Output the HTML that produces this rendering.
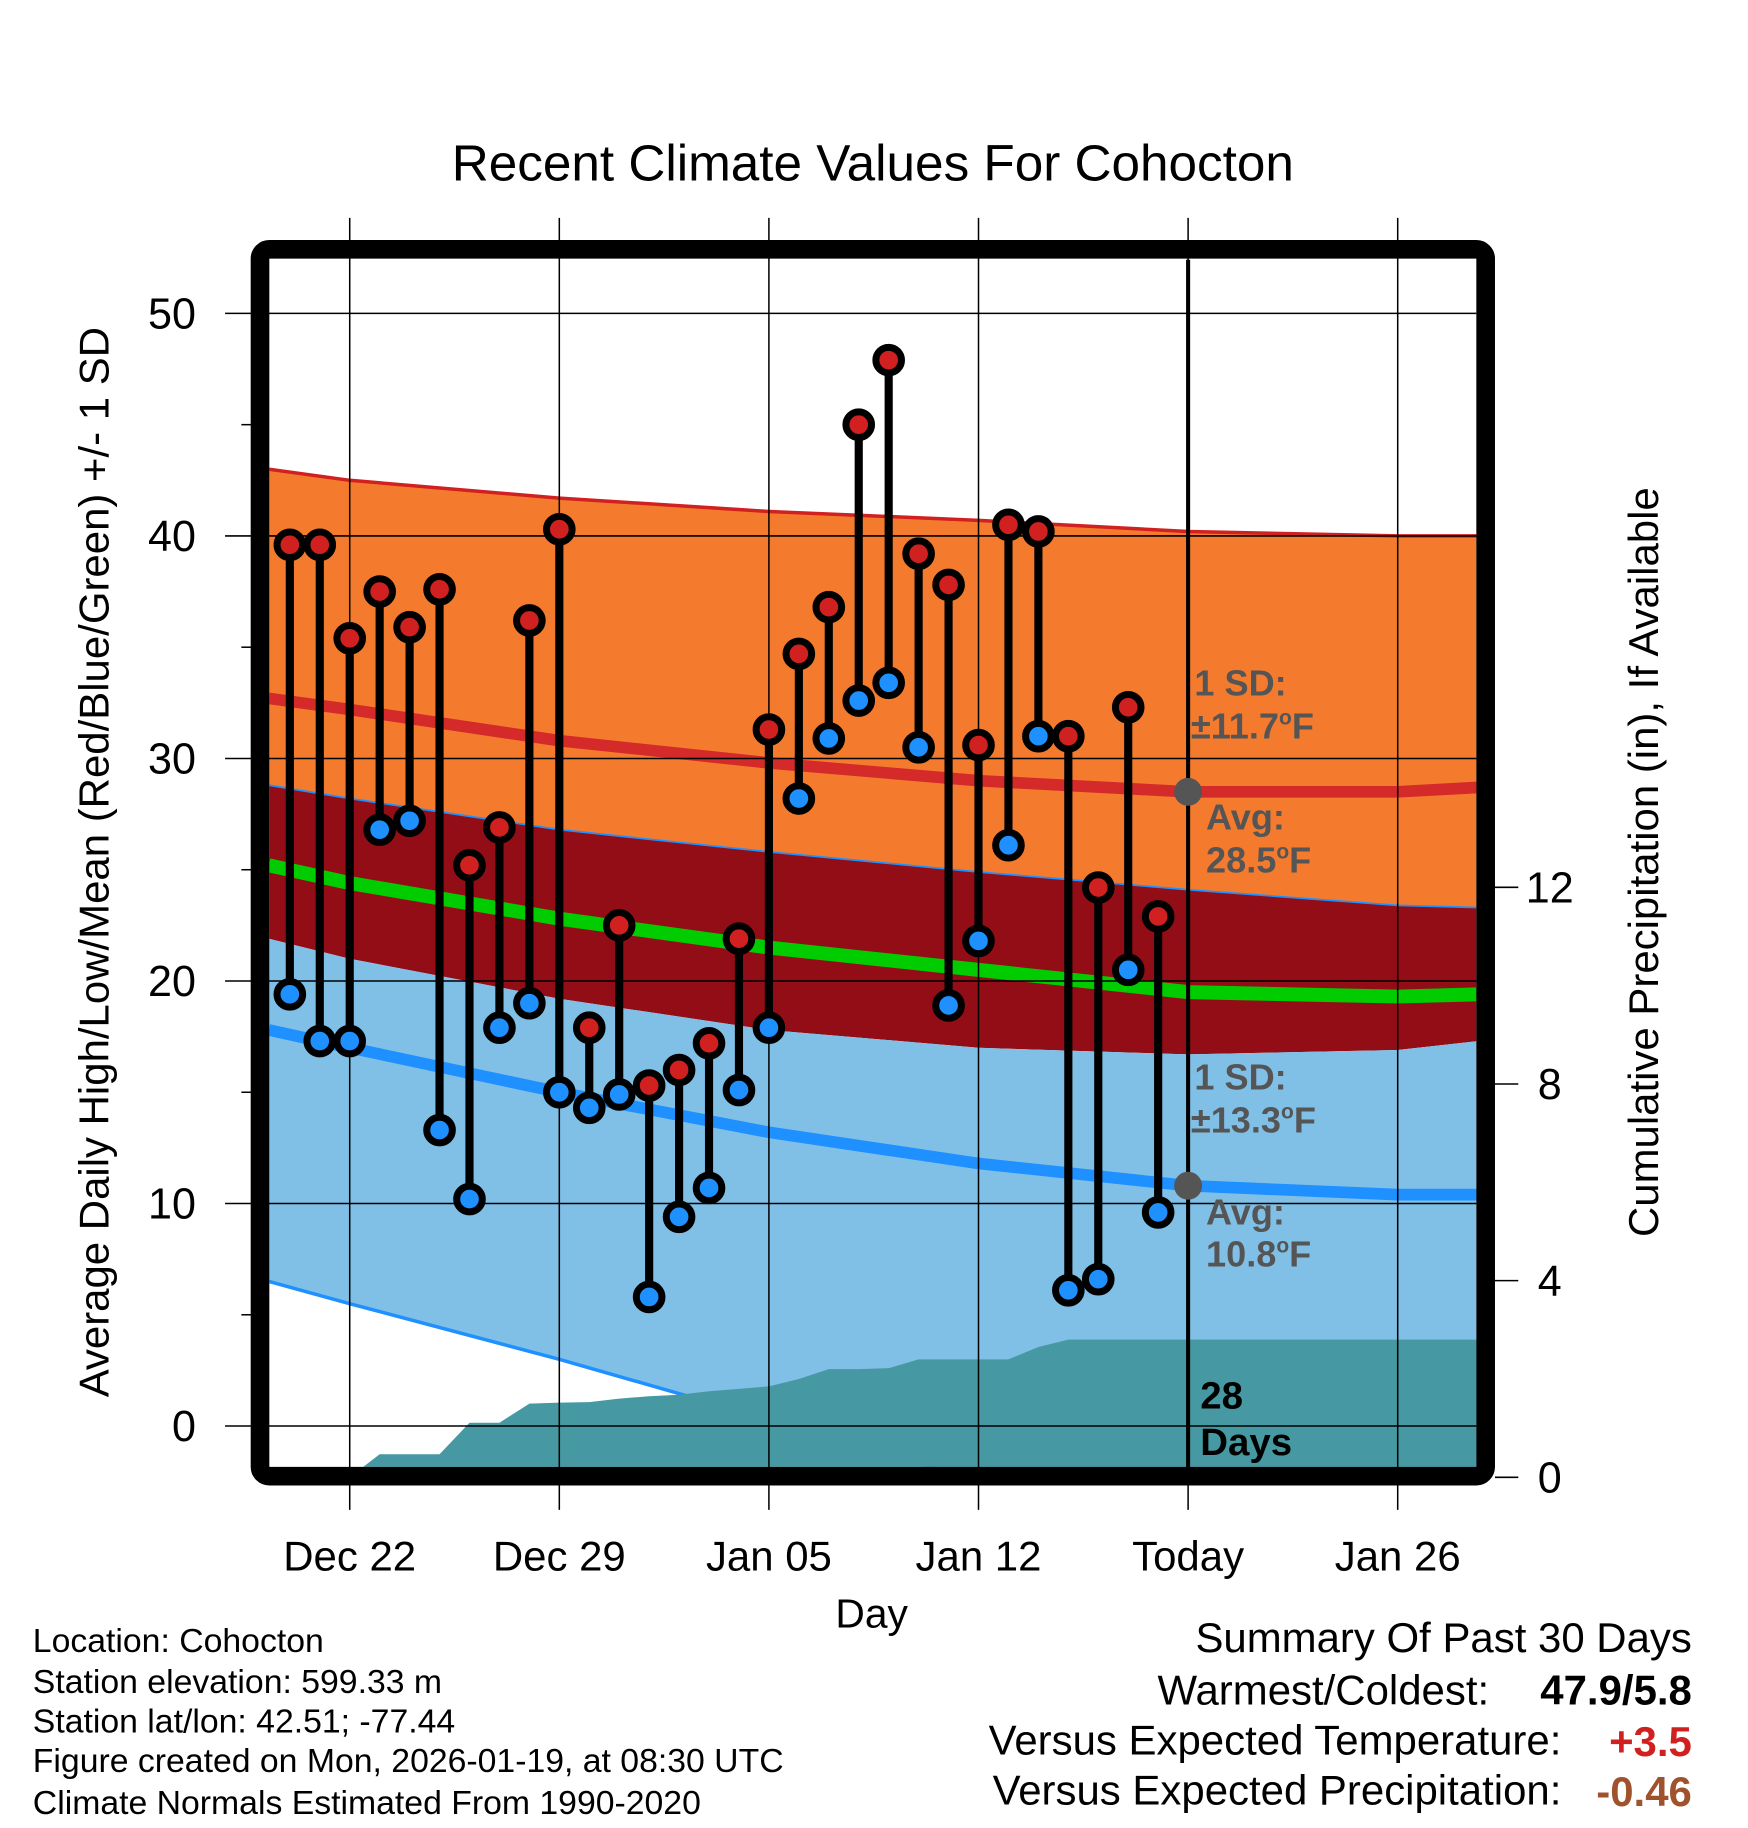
<!DOCTYPE html>
<html><head><meta charset="utf-8"><style>
html,body{margin:0;padding:0;background:#fff}
svg{display:block;font-family:"Liberation Sans",Arial,sans-serif}
</style></head><body>
<svg id="chart" width="1748" height="1828" viewBox="0 0 1500 1569" xmlns="http://www.w3.org/2000/svg">
<defs><clipPath id="plotclip"><rect x="231" y="223" width="1036" height="1036"/></clipPath></defs>
<rect width="1500" height="1569" fill="#fff"/>
<g id="plot" clip-path="url(#plotclip)"></g>
<g id="over"></g>
</svg>
<script>
// ---- data ----
const dayOffsets = [-2,-1,0,1,2,3,4,5,6,7,8,9,10,11,12,13,14,15,16,17,18,19,20,21,22,23,24,25,26,27];
const highs = [39.6,39.6,35.4,37.5,35.9,37.6,25.2,26.9,36.2,40.3,17.9,22.5,15.3,16.0,17.2,21.9,31.3,34.7,36.8,45.0,47.9,39.2,37.8,30.6,40.5,40.2,31.0,24.2,32.3,22.9];
const lows  = [19.4,17.3,17.3,26.8,27.2,13.3,10.2,17.9,19.0,15.0,14.3,14.9,5.8,9.4,10.7,15.1,17.9,28.2,30.9,32.6,33.4,30.5,18.9,21.8,26.1,31.0,6.1,6.6,20.5,9.6];
const precip = [0,0,0,0.47,0.47,0.47,1.11,1.11,1.5,1.52,1.53,1.6,1.65,1.68,1.75,1.8,1.85,2.0,2.2,2.2,2.22,2.4,2.4,2.4,2.4,2.65,2.8,2.8,2.8,2.8];
const normDays = [-2.7,0,7,14,21,28,35,37.7];
const hiPlusSD = [43.0,42.5,41.7,41.1,40.7,40.2,40.0,40.0];
const normHigh = [32.7,32.2,30.8,29.8,29.0,28.5,28.5,28.7];
const hiMinusSD = [28.8,28.2,26.8,25.8,24.9,24.1,23.4,23.3];
const normMean = [25.2,24.4,22.8,21.5,20.5,19.5,19.3,19.4];
const loPlusSD = [21.9,21.0,19.2,17.8,17.0,16.7,16.9,17.3];
const normLow = [17.8,17.0,15.0,13.2,11.8,10.8,10.4,10.4];
const loMinusSD = [6.5,5.5,3.0,0.3,-2.5,-3.5,-4.0,-4.0];
const yTicks = [0,10,20,30,40,50];
const yMinor = [5,15,25,35,45];
const pTicks = [0,4,8,12];
const xTickDays = [0,7,14,21,28,35];
const xTickLabels = ["Dec 22","Dec 29","Jan 05","Jan 12","Today","Jan 26"];

// ---- axes ----
const X = d => 300 + d*25.7;
const Y = v => 1224 - v*19.1;
const P = p => 1268 - p*42.2;
const NS="http://www.w3.org/2000/svg";
const plot=document.getElementById('plot'), over=document.getElementById('over');
function mk(tag,attrs,parent){const e=document.createElementNS(NS,tag);for(const k in attrs)e.setAttribute(k,attrs[k]);parent.appendChild(e);return e;}
function line(arr){return normDays.map((d,i)=>X(d)+','+Y(arr[i]));}
function band(a,b,fill,name){
  const pts=line(a).concat(line(b).reverse());
  const e=mk('polygon',{points:pts.join(' '),fill:fill},plot);
  
  
}
band(hiPlusSD,hiMinusSD,'#f47b2e','high-sd-band');
band(hiMinusSD,loPlusSD,'#920d15','overlap-band');
band(loPlusSD,loMinusSD,'#80c0e6','low-sd-band');
function pl(arr,color,w,name){
  const e=mk('polyline',{points:line(arr).join(' '),fill:'none',stroke:color,'stroke-width':w},plot);
  
  
}
pl(hiPlusSD,'#d02020',3,'high-plus-sd-line');
pl(hiMinusSD,'#1e90ff',1.5,'high-minus-sd-line');
pl(loMinusSD,'#1e90ff',3,'low-minus-sd-line');
pl(normHigh,'#d42a2a',10,'normal-high-line');
pl(normMean,'#00cc00',12,'normal-mean-line');
pl(normLow,'#1e90ff',10,'normal-low-line');
// precip area
{
  let pts=[X(dayOffsets[0])+','+P(0)];
  dayOffsets.forEach((d,i)=>pts.push(X(d)+','+P(precip[i])));
  pts.push('1270,'+P(precip[precip.length-1]));
  pts.push('1270,'+P(0));
  const e=mk('polygon',{points:pts.join(' '),fill:'#4699a2'},plot);
  
  
}
// grid
yTicks.forEach(v=>{
  const e=mk('line',{x1:193,x2:1267,y1:Y(v),y2:Y(v),stroke:'#000','stroke-width':1.3},over);
  
  
  const t=mk('text',{x:168,y:Y(v)+13,'font-size':37,'text-anchor':'end'},over);
  t.textContent=v;
  
  
});
yMinor.forEach(v=>{
  const e=mk('line',{x1:207,x2:216,y1:Y(v),y2:Y(v),stroke:'#000','stroke-width':1.3},over);
  
  
});
xTickDays.forEach((d,i)=>{
  const e=mk('line',{x1:X(d),x2:X(d),y1:187,y2:1296,stroke:'#000','stroke-width':1.3},over);
  
  
  const t=mk('text',{x:X(d),y:1348,'font-size':36,'text-anchor':'middle'},over);
  t.textContent=xTickLabels[i];
  
  
});
pTicks.forEach(p=>{
  const e=mk('line',{x1:1283,x2:1303,y1:P(p),y2:P(p),stroke:'#000','stroke-width':1.3},over);
  
  
  const t=mk('text',{x:1330,y:P(p)+13,'font-size':37,'text-anchor':'middle'},over);
  t.textContent=p;
  
  
});
// today line
{
  const e=mk('line',{x1:X(28),x2:X(28),y1:223,y2:1260,stroke:'#000','stroke-width':3.5},over);
  
  
  [28.5,10.8].forEach(v=>{
    const c=mk('circle',{cx:X(28),cy:Y(v),r:12,fill:'#555'},over);
    
    
  });
}
// markers
dayOffsets.forEach((d,i)=>{
  const e=mk('line',{x1:X(d),x2:X(d),y1:Y(highs[i]),y2:Y(lows[i]),stroke:'#000','stroke-width':7},over);
  
  
});
dayOffsets.forEach((d,i)=>{
  [[highs[i],'#d02020','high-point'],[lows[i],'#1e90ff','low-point']].forEach(([v,c,n])=>{
    const o=mk('circle',{cx:X(d),cy:Y(v),r:11,fill:c,stroke:'#000','stroke-width':6},over);
    
    
  });
});
</script>
<svg style="position:absolute;left:0;top:0" width="1748" height="1828" viewBox="0 0 1500 1569" xmlns="http://www.w3.org/2000/svg" font-family="Liberation Sans, Arial, sans-serif">
<rect x="223" y="214" width="1052" height="1053" rx="8" fill="none" stroke="#000" stroke-width="16"/>
<g font-weight="bold" font-size="31" fill="#555">
<text x="1025" y="597">1 SD:</text>
<text x="1022" y="634">±11.7<tspan font-size="18" dy="-12">o</tspan><tspan dy="12">F</tspan></text>
<text x="1035" y="712">Avg:</text>
<text x="1035" y="749">28.5<tspan font-size="18" dy="-12">o</tspan><tspan dy="12">F</tspan></text>
<text x="1025" y="935">1 SD:</text>
<text x="1022" y="972">±13.3<tspan font-size="18" dy="-12">o</tspan><tspan dy="12">F</tspan></text>
<text x="1035" y="1051">Avg:</text>
<text x="1035" y="1087">10.8<tspan font-size="18" dy="-12">o</tspan><tspan dy="12">F</tspan></text>
</g>
<g font-weight="bold" font-size="33" fill="#000">
<text x="1030" y="1209">28</text>
<text x="1030" y="1249">Days</text>
</g>
<text x="749" y="155" font-size="44" text-anchor="middle">Recent Climate Values For Cohocton</text>
<text x="748" y="1397" font-size="35" text-anchor="middle">Day</text>
<text transform="translate(93,740) rotate(-90)" font-size="36" text-anchor="middle">Average Daily High/Low/Mean (Red/Blue/Green) +/- 1 SD</text>
<text transform="translate(1423,740) rotate(-90)" font-size="36" text-anchor="middle">Cumulative Precipitation (in), If Available</text>
<g font-size="29">
<text x="28" y="1418">Location: Cohocton</text>
<text x="28" y="1453">Station elevation: 599.33 m</text>
<text x="28" y="1487">Station lat/lon: 42.51; -77.44</text>
<text x="28" y="1521">Figure created on Mon, 2026-01-19, at 08:30 UTC</text>
<text x="28" y="1557">Climate Normals Estimated From 1990-2020</text>
</g>
<g font-size="36">
<text x="1452" y="1418" text-anchor="end">Summary Of Past 30 Days</text>
<text x="1278" y="1463" text-anchor="end">Warmest/Coldest:</text>
<text x="1452" y="1463" text-anchor="end" font-weight="bold">47.9/5.8</text>
<text x="1340" y="1506" text-anchor="end">Versus Expected Temperature:</text>
<text x="1452" y="1507" text-anchor="end" font-weight="bold" fill="#d02020">+3.5</text>
<text x="1340" y="1549" text-anchor="end">Versus Expected Precipitation:</text>
<text x="1452" y="1550" text-anchor="end" font-weight="bold" fill="#a0522d">-0.46</text>
</g>
</svg>
</body></html>
